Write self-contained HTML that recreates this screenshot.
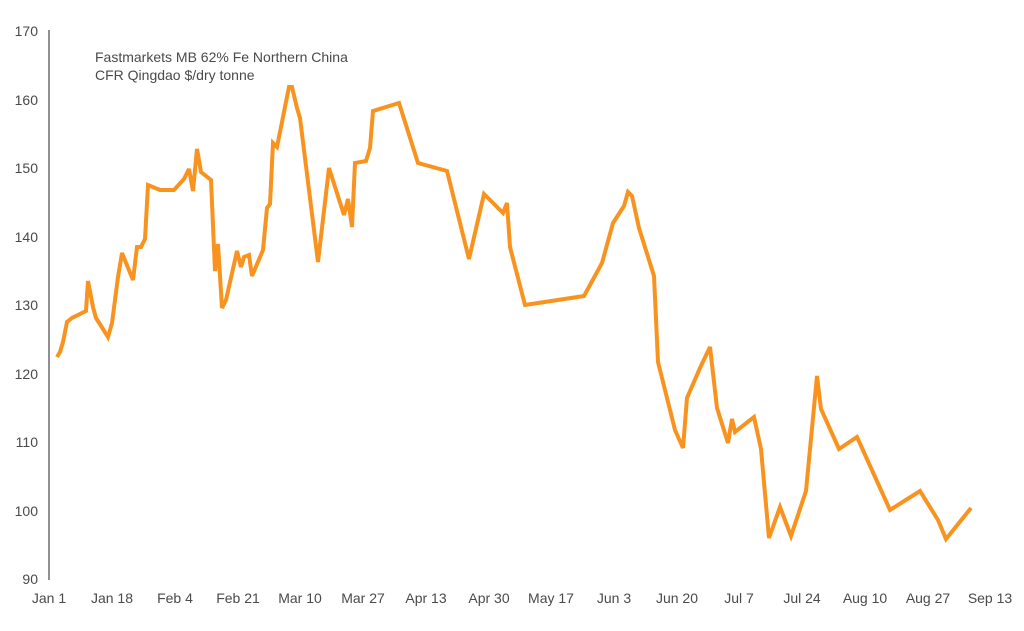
<!DOCTYPE html>
<html><head><meta charset="utf-8"><style>
html,body{margin:0;padding:0;background:#fff;}
svg{display:block;}
text{font-family:"Liberation Sans",sans-serif;fill:#4a4a4a;font-size:14px;}
</style></head><body>
<svg width="1024" height="631" viewBox="0 0 1024 631">
<line x1="49" y1="30" x2="49" y2="580" stroke="#555" stroke-width="1.3"/>
<g text-anchor="end">
<text x="38" y="36">170</text>
<text x="38" y="105">160</text>
<text x="38" y="173">150</text>
<text x="38" y="242">140</text>
<text x="38" y="310">130</text>
<text x="38" y="379">120</text>
<text x="38" y="447">110</text>
<text x="38" y="516">100</text>
<text x="38" y="584">90</text>
</g>
<g text-anchor="middle">
<text x="49" y="603">Jan 1</text>
<text x="112" y="603">Jan 18</text>
<text x="175" y="603">Feb 4</text>
<text x="238" y="603">Feb 21</text>
<text x="300" y="603">Mar 10</text>
<text x="363" y="603">Mar 27</text>
<text x="426" y="603">Apr 13</text>
<text x="489" y="603">Apr 30</text>
<text x="551" y="603">May 17</text>
<text x="614" y="603">Jun 3</text>
<text x="677" y="603">Jun 20</text>
<text x="739" y="603">Jul 7</text>
<text x="802" y="603">Jul 24</text>
<text x="865" y="603">Aug 10</text>
<text x="928" y="603">Aug 27</text>
<text x="990" y="603">Sep 13</text>
</g>
<text x="95" y="62">Fastmarkets MB 62% Fe Northern China</text>
<text x="95" y="80">CFR Qingdao $/dry tonne</text>
<polyline fill="none" stroke="#f7931e" stroke-width="4" stroke-linejoin="miter" stroke-miterlimit="3" points="
57,357 60,352 63,342 67,322 72,318 86,311 88,281 93,307 96,318 108,337 112,323 118,277 122,253 133,280 137,247 141,247 145,239 148,185 160,190 174,190 184,179 189,169 193,191 197,149 201,172 211,180 215,271 218,244 222,308 226,300 237,251 241,267 244,257 249,255 252,276 263,250 267,208 270,204 273,143 277,147 289,87 292,87 297,108 300,118 318,262 329,168 344,215 348,199 352,227 355,163 366,161 370,148 373,111 399,103 418,163 447,171 469,259 484,194 503,213 507,203 510,247 525,305 584,296 602,263 613,223 624,206 628,192 632,196 639,228 654,276 658,362 675,430 683,448 687,398 700,368 710,347 717,408 728,443 732,419 735,432 754,417 761,449 769,538 780,507 791,536 806,491 817,376 821,409 839,449 857,437 890,510 920,491 938,520 946,539 971,508"/>
</svg>
</body></html>
